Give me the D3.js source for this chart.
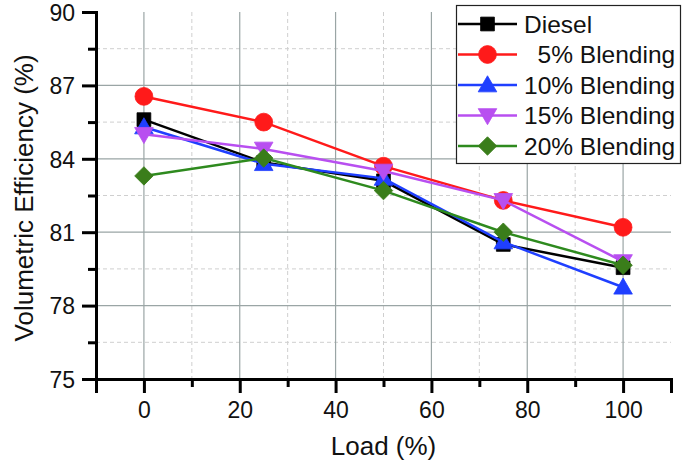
<!DOCTYPE html>
<html><head><meta charset="utf-8">
<script src="https://cdn.jsdelivr.net/npm/d3@7"></script>
<style>body{margin:0;background:#fff}svg{display:block}text{font-family:"Liberation Sans",Arial,sans-serif}</style>
</head><body>
<svg id="c" width="685" height="466"></svg>
<script>
const loads = [0, 25, 50, 75, 100];
const seriesNames = ["Diesel", "  5% Blending", "10% Blending", "15% Blending", "20% Blending"];
const diesel  = [85.6, 83.85, 83.1, 80.5, 79.55];
const blend5  = [86.55, 85.5, 83.7, 82.3, 81.2];
const blend10 = [85.3, 83.8, 83.2, 80.6, 78.75];
const blend15 = [85.0, 84.4, 83.5, 82.3, 79.8];
const blend20 = [83.3, 84.03, 82.7, 81.0, 79.65];
const xTicks = [0, 20, 40, 60, 80, 100];
const yTicks = [75, 78, 81, 84, 87, 90];

const colors = ["#000000", "#ff1a1a", "#1f3fff", "#b84ff0", "#2e8a1e"];
const fills  = ["#000000", "#ff1a1a", "#1f3fff", "#b84ff0", "#3a7d1a"];
const allSeries = [diesel, blend5, blend10, blend15, blend20];

const svg = d3.select("#c");
const x = d3.scaleLinear().domain([-10, 110]).range([96, 671]);
const y = d3.scaleLinear().domain([75, 90]).range([379, 12]);

// grid
const g = svg.append("g");
const xMinor = d3.range(-10, 111, 10).filter(v => v % 20 !== 0 && v > -10 && v < 110);
const yMinor = d3.range(76.5, 90, 3);
g.selectAll(".vmin").data(xMinor).join("line")
  .attr("x1", d => x(d)).attr("x2", d => x(d)).attr("y1", y(90)).attr("y2", y(75))
  .attr("stroke", "#cfcfcf").attr("stroke-width", 1).attr("stroke-dasharray", "4,3");
g.selectAll(".hmin").data(yMinor).join("line")
  .attr("y1", d => y(d)).attr("y2", d => y(d)).attr("x1", x(-10)).attr("x2", x(110))
  .attr("stroke", "#cfcfcf").attr("stroke-width", 1).attr("stroke-dasharray", "4,3");
g.selectAll(".vmaj").data(xTicks).join("line")
  .attr("x1", d => x(d)).attr("x2", d => x(d)).attr("y1", y(90)).attr("y2", y(75))
  .attr("stroke", "#9aa5a5").attr("stroke-width", 1.2);
g.selectAll(".hmaj").data(yTicks.filter(v => v > 75 && v < 90)).join("line")
  .attr("y1", d => y(d)).attr("y2", d => y(d)).attr("x1", x(-10)).attr("x2", x(110))
  .attr("stroke", "#9aa5a5").attr("stroke-width", 1.2);

// axes
const xAxis = svg.append("g").attr("transform", `translate(0,${y(75)})`)
  .call(d3.axisBottom(x).tickValues(xTicks).tickSize(14).tickPadding(9).tickFormat(d3.format("d")));
const xAxisMinor = svg.append("g").attr("transform", `translate(0,${y(75)})`)
  .call(d3.axisBottom(x).tickValues(d3.range(-10, 111, 20)).tickSize(8).tickFormat(""));
const yAxis = svg.append("g").attr("transform", `translate(${x(-10)},0)`)
  .call(d3.axisLeft(y).tickValues(yTicks).tickSize(14).tickPadding(7).tickFormat(d3.format("d")));
const yAxisMinor = svg.append("g").attr("transform", `translate(${x(-10)},0)`)
  .call(d3.axisLeft(y).tickValues(yMinor).tickSize(8).tickFormat(""));
[xAxis, xAxisMinor, yAxis, yAxisMinor].forEach(a => {
  a.select(".domain").attr("stroke", "#000").attr("stroke-width", 3);
  a.selectAll(".tick line").attr("stroke", "#000").attr("stroke-width", 3);
  a.selectAll(".tick text").attr("font-size", 23).attr("fill", "#111")
   .attr("font-family", "Liberation Sans, Arial, sans-serif");
});
xAxisMinor.select(".domain").remove();
yAxisMinor.select(".domain").remove();
yAxis.selectAll(".tick text").attr("dy", "0.36em");

// titles
svg.append("text").attr("x", x(50)).attr("y", 455).attr("text-anchor", "middle")
  .attr("font-size", 26).attr("fill", "#111").text("Load (%)");
svg.append("text").attr("transform", `translate(33,${y(82.4)}) rotate(-90)`)
  .attr("text-anchor", "middle").attr("font-size", 26).attr("fill", "#111")
  .text("Volumetric Efficiency (%)");

// symbols
function symbolFor(i, size) {
  const types = [d3.symbolSquare, d3.symbolCircle, d3.symbolTriangle, d3.symbolTriangle, d3.symbolSquare];
  const sizes = [190, 250, 150, 150, 170];
  return d3.symbol().type(types[i]).size(sizes[i] * (size || 1))();
}
function rot(i) { return i === 3 ? 180 : (i === 4 ? 45 : 0); }

const line = d3.line().x((d, j) => x(loads[j])).y(d => y(d));
allSeries.forEach((vals, i) => {
  svg.append("path").datum(vals).attr("d", line).attr("fill", "none")
    .attr("stroke", colors[i]).attr("stroke-width", 2.5);
  svg.selectAll(null).data(vals).join("path")
    .attr("d", symbolFor(i))
    .attr("transform", (d, j) => `translate(${x(loads[j])},${y(d) + (i === 2 ? 1.5 : i === 3 ? -1.5 : 0)}) rotate(${rot(i)})`)
    .attr("fill", fills[i]).attr("stroke", fills[i]).attr("stroke-width", 0.8);
});

// legend
const lg = svg.append("g");
lg.append("rect").attr("x", 456.5).attr("y", 5.5).attr("width", 224).attr("height", 158)
  .attr("fill", "#fff").attr("stroke", "#222").attr("stroke-width", 1.2);
seriesNames.forEach((name, i) => {
  const cy = 24 + i * 30.5;
  lg.append("line").attr("x1", 458).attr("x2", 517).attr("y1", cy).attr("y2", cy)
    .attr("stroke", colors[i]).attr("stroke-width", 2.5);
  lg.append("path").attr("d", symbolFor(i))
    .attr("transform", `translate(487.5,${cy + (i === 2 ? 1.5 : i === 3 ? -1.5 : 0)}) rotate(${rot(i)})`)
    .attr("fill", fills[i]).attr("stroke", fills[i]).attr("stroke-width", 0.8);
  lg.append("text").attr("x", 524).attr("y", cy).attr("dy", "0.36em")
    .attr("font-size", 24.5).attr("fill", "#111").style("white-space", "pre").text(name);
});
</script>
</body></html>
